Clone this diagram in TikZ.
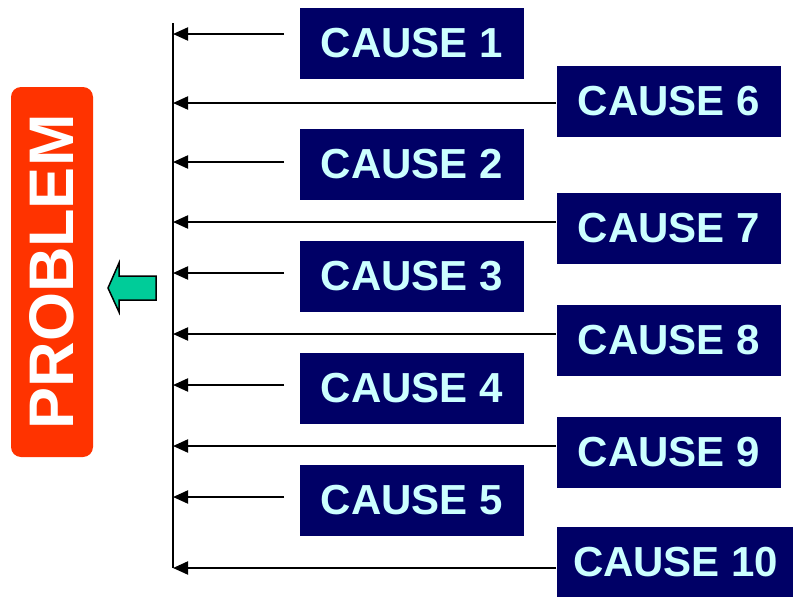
\documentclass[tikz,border=0pt]{standalone}
\usepackage{fontspec}
\setmainfont{Liberation Sans}
\usetikzlibrary{arrows.meta}

\definecolor{causebg}{HTML}{000066}
\definecolor{causefg}{HTML}{CCFFFF}
\definecolor{probred}{HTML}{FF3300}
\definecolor{arrowgreen}{HTML}{00CC99}

\tikzset{
  cause/.style={fill=causebg, text=causefg, font=\bfseries\fontsize{42}{42}\selectfont,
    minimum width=224, minimum height=71, inner xsep=16},
  problembox/.style={fill=probred, text=white, rounded corners=10, rotate=90,
    font=\bfseries\fontsize{63}{63}\selectfont, minimum width=370, minimum height=82},
}

\begin{document}
\begin{tikzpicture}[x=1pt, y=-1pt, line width=2pt, >={Triangle[length=15pt,width=13pt]}]
            \useasboundingbox (0,0) rectangle (793,597);
            % problem and spine
            \node[problembox] (problem) at (52,272) {PROBLEM};
            \draw[fill=arrowgreen, line width=1.5pt] (108,288) -- (119,263) -- (119,276) -- (156,276)
                -- (156,300) -- (119,300) -- (119,312) -- cycle;
            \coordinate (top) at (173,23);
            \coordinate (bottom) at (173,568);
            \draw (top) -- (bottom);
            % causes on the left
            \foreach \n/\y/\a in {1/43.5/34, 2/164.5/162, 3/276.5/273, 4/388.5/385, 5/500.5/497} {
                \node[cause] (c\n) at (412,\y) {CAUSE \n};
                \coordinate (s\n) at (284,\a);
                \draw[->] (s\n) -- (s\n -| top);
            }
            % causes on the right
            \foreach \n/\y/\d in {6/101.5/-1.5, 7/228.5/6.5, 8/340.5/6.5, 9/452.5/6.5, 10/562.5/-5.5} {
                \node[cause, anchor=west] (c\n) at (556,\y) {CAUSE \n};
                \coordinate (e\n) at ([yshift=\d]c\n.west);
                \draw[->] (e\n) -- (e\n -| top);
            }
        \end{tikzpicture}
\end{document}
